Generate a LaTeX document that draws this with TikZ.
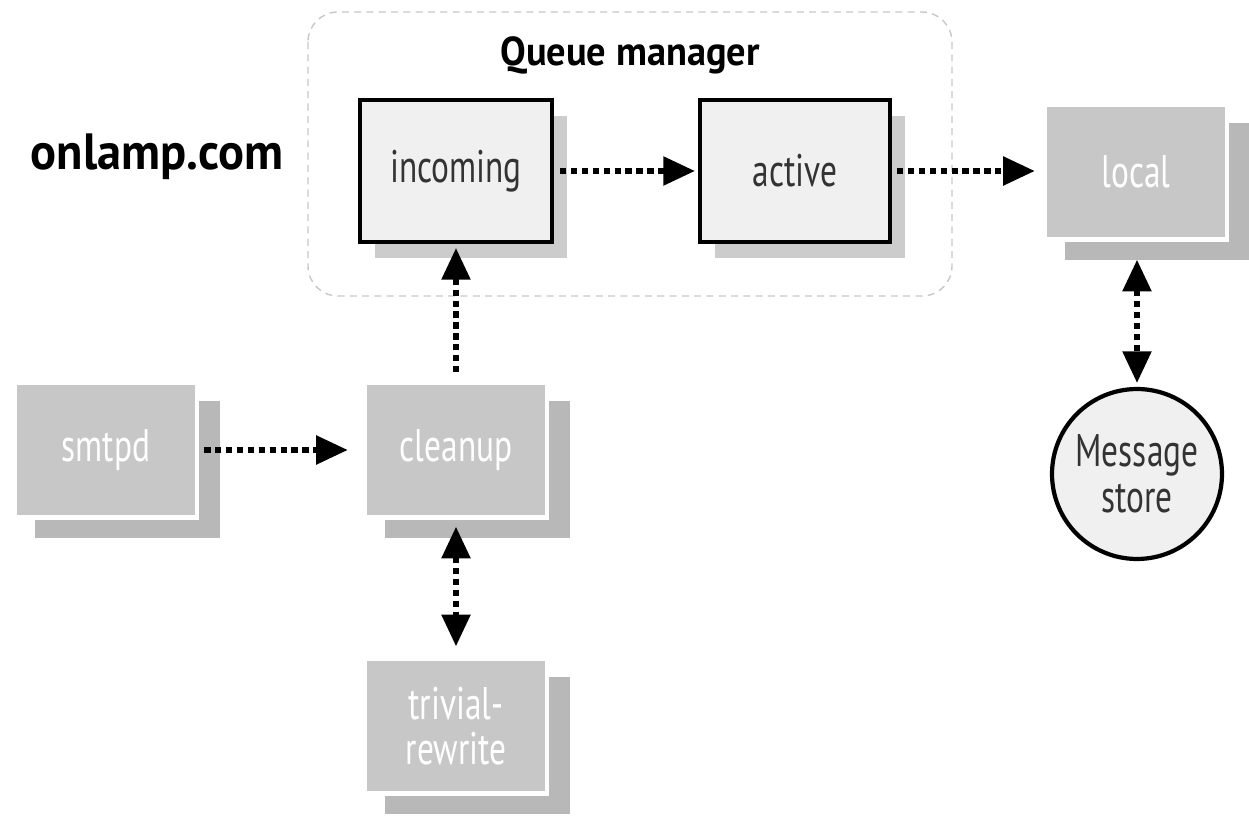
\documentclass[tikz,border=0pt]{standalone}
\usepackage{fontspec}
\setmainfont{PT Sans}[FakeStretch=0.73]
\newfontfamily\boldwide{PT Sans}[FakeStretch=0.95]
\usetikzlibrary{arrows.meta,shadows,shapes.geometric}
\definecolor{boxgray}{gray}{0.78}
\definecolor{lightfill}{gray}{0.94}
\definecolor{dashgray}{gray}{0.78}
\definecolor{shadegray}{gray}{0.72}
\tikzset{
  x=0.02cm,y=-0.02cm,
  boxfont/.style={font=\fontsize{26}{26}\selectfont},
  graybox/.style={rectangle,fill=boxgray,draw=white,line width=2.6pt,text=white,
    boxfont,align=center,inner sep=0pt,minimum width=3.64cm,minimum height=2.7cm,
    drop shadow={shadow xshift=0.42cm,shadow yshift=-0.38cm,shadow scale=1.02,fill=shadegray,opacity=1}},
  qbox/.style={rectangle,fill=lightfill,draw=black,line width=2.4pt,text=black!80,
    boxfont,inner sep=0pt,minimum width=3.84cm,minimum height=2.84cm,
    drop shadow={shadow xshift=0.3cm,shadow yshift=-0.32cm,fill=black,opacity=0.2}},
  dotline/.style={line width=3pt,dash pattern=on 3.6pt off 2.6pt},
  tip/.style={Triangle[length=18pt,width=16pt]},
  flow/.style={dotline,-{Triangle[length=18pt,width=16pt]}},
  bothflow/.style={dotline,{Triangle[length=18pt,width=16pt]}-{Triangle[length=18pt,width=16pt]}},
}
\begin{document}
\begin{tikzpicture}
\useasboundingbox (0,0) rectangle (1249,824);
\draw[dashgray,line width=0.8pt,dash pattern=on 4pt off 3pt,rounded corners=0.6cm]
  (308,12) rectangle (952,296);
\node[font=\boldwide\bfseries\fontsize{23}{25}\selectfont] (qm) at (630,55) {Queue manager};
\node[font=\boldwide\bfseries\fontsize{29}{31}\selectfont] (host) at (157,157) {onlamp.com};

\node[qbox] (incoming) at (456,171) {incoming};
\node[qbox,minimum width=3.8cm] (active) at (795,171) {active};
\node[graybox] (local) at (1136,172) {local};
\node[graybox] (smtpd) at (106,450) {smtpd};
\node[graybox] (cleanup) at (456,450) {cleanup};
\node[graybox] (trivial) at (456,726) {trivial-\\rewrite};
\node[circle,fill=lightfill,draw=black,line width=2.4pt,minimum size=3.4cm,inner sep=0pt,
  align=center,text=black!80,boxfont] (store) at (1137,474) {Message\\store};

\draw[flow,shorten <=0.12cm,shorten >=0.06cm] (incoming) -- (active);
\draw[flow,shorten <=0.1cm,shorten >=0.16cm] (active.east) -- (local.west |- active.east);
\draw[flow,shorten <=0.16cm,shorten >=0.08cm] (cleanup) -- (incoming);
\draw[flow,shorten <=0.1cm,shorten >=0.3cm] (smtpd.east) -- (cleanup.west |- smtpd.east);
\draw[bothflow,shorten <=0.14cm,shorten >=0.2cm] (cleanup) -- (trivial);
\draw[bothflow,shorten <=0.36cm,shorten >=0.08cm] (local.south -| store.north) -- (store.north);
\end{tikzpicture}
\end{document}
